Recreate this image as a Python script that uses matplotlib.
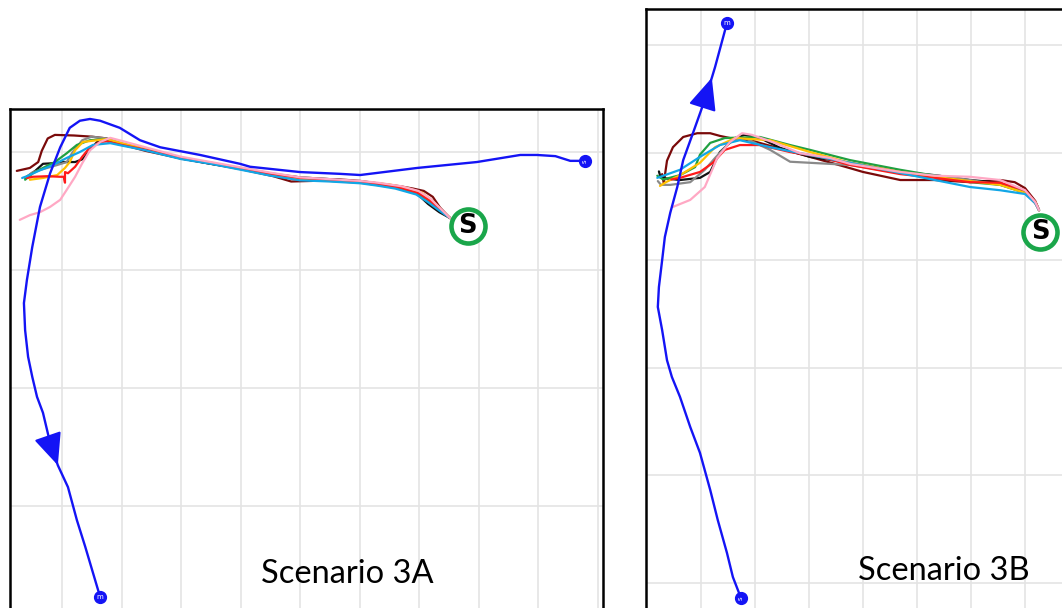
import matplotlib
matplotlib.use("Agg")
import matplotlib.pyplot as plt

# ---------------------------------------------------------------
# Trajectories (metres, local frame of each scenario)
# ---------------------------------------------------------------
# Scenario 3A: reference route (blue), from start "s" to end "m"
A_ROUTE = [(87.9, -1.5), (85.4, -1.5), (82.9, -0.7), (79.8, -0.5), (77.0, -0.5),
           (69.7, -1.7), (59.7, -2.7), (50.1, -3.9), (46.7, -3.7), (40.0, -3.4),
           (31.6, -2.5), (29.9, -2.0), (23.2, -0.5), (16.5, 0.8), (13.1, 2.0),
           (9.7, 4.1), (6.4, 5.3), (4.7, 5.6), (3.0, 5.3), (1.3, 4.1), (-0.3, 0.8),
           (-2.0, -3.6), (-3.7, -9.3), (-5.0, -16.1), (-5.9, -21.7), (-6.4, -25.6),
           (-6.2, -30.2), (-5.7, -34.7), (-5.0, -38.1), (-4.2, -41.5), (-3.2, -44.2),
           (-2.0, -49.3), (-0.7, -53.1), (1.0, -56.8), (2.5, -62.4), (3.9, -66.9),
           (6.4, -75.4)]
A_ARROW = (31, 32)          # route segment carrying the direction arrow
A_START_S = (68.2, -12.5)   # participants' start point

A_MAROON = [(65.2, -11.2), (63.5, -9.4), (62.3, -7.6), (60.8, -6.6), (59.0, -6.2),
            (56.8, -5.8), (53.0, -5.3), (50.1, -4.9), (46.0, -4.6), (42.0, -4.9),
            (38.5, -5.0), (35.5, -4.1), (30.0, -2.9), (25.0, -2.0), (20.0, -1.1),
            (14.0, 0.2), (10.0, 1.3), (7.5, 2.3), (5.0, 2.6), (2.0, 2.8), (-1.2, 2.9),
            (-2.4, 2.3), (-3.4, 0.2), (-4.0, -1.7), (-5.4, -2.7), (-7.6, -3.2)]
A_BLACK = [(65.2, -11.2), (63.4, -10.2), (61.5, -8.8), (59.7, -7.1), (57.0, -6.1),
           (53.0, -5.4), (50.1, -5.0), (45.0, -4.6), (40.0, -4.3), (35.0, -3.7),
           (30.0, -2.8), (25.0, -2.0), (20.0, -1.1), (14.0, 0.4), (10.0, 1.3),
           (7.5, 2.0), (6.0, 1.8), (4.7, 0.4), (3.5, -1.2), (2.2, -1.7), (0.0, -1.7),
           (-1.5, -1.9), (-3.2, -2.0), (-4.5, -3.2), (-6.2, -4.4)]
A_GRAY = [(65.2, -11.2), (63.6, -9.9), (61.8, -8.3), (59.7, -6.9), (57.0, -6.0),
          (53.0, -5.3), (50.1, -5.0), (45.0, -4.6), (40.0, -4.3), (35.0, -3.6),
          (30.0, -2.7), (25.0, -1.9), (20.0, -1.0), (14.0, 0.5), (10.0, 1.5),
          (7.5, 2.3), (5.0, 2.6), (3.4, 2.0), (1.8, 0.0), (0.8, -1.7), (-0.8, -2.2),
          (-2.5, -2.7), (-4.9, -3.4), (-6.2, -4.4)]
A_GREEN = [(65.2, -11.2), (63.8, -9.9), (62.0, -8.5), (60.0, -7.1), (57.0, -6.2),
           (53.0, -5.6), (50.1, -5.2), (45.0, -4.9), (40.0, -4.6), (35.0, -3.8),
           (30.0, -2.8), (25.0, -1.9), (20.0, -1.0), (14.0, 0.5), (10.0, 1.4),
           (7.5, 2.2), (4.7, 2.0), (2.5, 1.2), (0.8, -0.2), (-1.2, -1.7), (-3.2, -2.7),
           (-4.9, -3.6), (-6.2, -4.7)]
A_YELLOW = [(65.2, -11.2), (63.9, -10.0), (62.4, -8.4), (60.5, -6.9), (58.0, -6.1),
            (55.0, -5.5), (50.1, -5.0), (45.0, -4.8), (40.0, -4.6), (35.0, -3.7),
            (30.0, -2.8), (25.0, -1.8), (20.0, -1.0), (14.0, 0.5), (10.0, 1.5),
            (7.5, 2.2), (5.9, 2.0), (3.5, 1.7), (2.2, 0.3), (1.3, -1.7), (0.5, -2.7),
            (-0.8, -3.9), (-3.2, -4.4), (-5.4, -4.7)]
A_RED = [(65.2, -11.2), (63.7, -10.0), (62.0, -8.4), (60.0, -7.0), (57.0, -6.1),
         (53.0, -5.4), (50.1, -5.0), (45.0, -4.7), (40.0, -4.4), (35.0, -3.7),
         (30.0, -2.8), (25.0, -1.9), (20.0, -1.0), (14.0, 0.4), (10.0, 1.2),
         (7.5, 1.8), (6.4, 1.7), (4.7, 0.8), (3.4, -0.8), (2.2, -2.5), (1.0, -3.6),
         (0.5, -3.4), (0.5, -5.2), (0.3, -4.2), (-0.3, -4.2), (-2.5, -4.1),
         (-4.9, -4.2), (-5.9, -4.4)]
A_CYAN = [(65.2, -11.2), (63.5, -10.0), (61.5, -8.5), (59.5, -7.2), (56.0, -6.2),
          (53.0, -5.7), (50.1, -5.3), (45.0, -5.0), (40.0, -4.8), (35.0, -4.0),
          (30.0, -3.0), (25.0, -2.0), (20.0, -1.2), (14.0, 0.3), (10.0, 1.1),
          (8.1, 1.5), (5.2, 1.2), (3.0, 0.0), (0.8, -1.0), (-1.5, -2.2), (-3.7, -3.1),
          (-5.9, -4.1), (-6.7, -4.4)]
A_PINK = [(65.2, -11.2), (63.6, -9.6), (61.9, -7.9), (59.9, -6.6), (57.0, -5.8),
          (53.0, -5.2), (50.1, -4.9), (45.0, -4.6), (40.0, -4.3), (35.0, -3.5),
          (30.0, -2.6), (25.0, -1.7), (20.0, -0.8), (14.0, 0.8), (10.0, 1.9),
          (8.1, 2.4), (6.4, 1.7), (4.7, 0.3), (3.4, -1.9), (2.2, -4.2), (0.8, -6.4),
          (-0.3, -8.1), (-2.0, -9.3), (-3.7, -10.2), (-5.4, -10.7), (-7.1, -11.5)]

# Scenario 3B
B_ROUTE = [(7.4, -102.8), (5.9, -98.9), (4.8, -94.4), (3.1, -88.3), (1.7, -82.7),
           (-0.2, -75.8), (-2.0, -71.0), (-3.9, -65.4), (-5.4, -61.7), (-6.3, -58.6),
           (-7.2, -53.0), (-8.0, -48.7), (-7.8, -45.0), (-7.2, -40.0), (-6.7, -35.7),
           (-5.7, -31.2), (-4.4, -26.4), (-3.3, -21.4), (-1.5, -16.4), (0.7, -10.2),
           (2.0, -6.1), (2.6, -4.1), (4.3, 2.2), (4.8, 4.1)]
B_ARROW = (19, 20)
B_START_S = (62.8, -34.8)

B_MAROON = [(62.6, -30.7), (61.9, -29.0), (60.0, -26.6), (58.1, -25.5), (55.4, -25.1),
            (49.8, -25.5), (43.3, -25.1), (36.9, -25.1), (30.0, -23.6), (27.6, -22.9),
            (20.2, -20.8), (13.7, -19.0), (9.1, -17.7), (5.4, -17.3), (3.5, -16.9),
            (1.7, -16.4), (-0.7, -16.4), (-3.3, -17.1), (-5.2, -19.0), (-6.3, -21.5),
            (-6.9, -25.7), (-7.2, -24.0)]
B_BLACK = [(62.6, -30.7), (61.9, -29.4), (60.0, -27.5), (55.4, -25.6), (49.8, -25.1),
           (43.3, -24.2), (36.9, -23.6), (27.6, -21.9), (20.2, -20.8), (14.6, -19.1),
           (10.9, -17.3), (8.1, -16.7), (6.3, -17.3), (3.5, -19.9), (1.7, -23.6),
           (-0.2, -24.7), (-3.9, -25.1), (-6.5, -24.8), (-7.6, -24.2), (-7.8, -23.5)]
B_GRAY = [(62.6, -30.7), (61.9, -29.2), (60.0, -27.3), (55.4, -26.0), (49.8, -25.1),
          (43.3, -24.2), (36.9, -23.8), (27.6, -22.3), (20.2, -21.9), (16.5, -21.7),
          (12.8, -19.5), (8.1, -17.3), (5.4, -18.0), (2.6, -21.0), (0.7, -23.2),
          (-2.0, -25.5), (-5.7, -26.0), (-7.4, -26.0), (-8.0, -25.3)]
B_GREEN = [(62.6, -30.7), (61.9, -29.2), (60.0, -27.5), (55.4, -26.0), (49.8, -25.5),
           (43.3, -24.3), (36.9, -23.2), (27.6, -21.4), (20.2, -19.5), (16.5, -18.6),
           (10.9, -17.1), (4.4, -17.3), (1.7, -18.2), (-0.2, -20.4), (-1.1, -22.7),
           (-3.9, -24.2), (-7.0, -25.0), (-8.1, -24.3)]
B_YELLOW = [(62.6, -30.7), (61.9, -29.2), (60.0, -27.5), (55.4, -26.0), (49.8, -25.3),
            (43.3, -24.5), (36.9, -23.6), (27.6, -21.9), (20.2, -19.9), (12.8, -17.7),
            (6.3, -17.3), (2.6, -19.0), (-0.2, -21.9), (-3.9, -24.2), (-6.5, -25.5),
            (-7.6, -26.2)]
B_RED = [(62.6, -30.7), (61.9, -29.2), (60.0, -27.0), (55.4, -25.6), (49.8, -25.5),
         (43.3, -24.7), (36.9, -24.0), (27.6, -22.3), (22.0, -20.8), (16.5, -19.9),
         (10.9, -18.6), (7.2, -18.6), (4.4, -19.5), (2.2, -21.9), (-0.2, -23.6),
         (-3.9, -24.7), (-5.5, -25.0)]
B_CYAN = [(62.6, -30.7), (61.9, -29.4), (60.0, -27.7), (55.4, -27.0), (49.8, -26.4),
          (43.3, -25.1), (36.9, -23.8), (27.6, -21.9), (18.3, -20.1), (12.8, -19.0),
          (7.2, -17.7), (3.5, -18.6), (-0.2, -20.8), (-3.9, -23.2), (-8.1, -24.7)]
B_PINK = [(62.6, -30.7), (61.9, -29.2), (60.0, -27.0), (55.4, -25.1), (49.8, -24.5),
          (43.3, -24.3), (36.9, -23.6), (27.6, -22.1), (23.9, -21.0), (18.3, -20.1),
          (13.7, -18.2), (9.4, -16.7), (7.6, -16.4), (5.4, -18.0), (3.0, -21.0),
          (0.7, -26.4), (-2.0, -28.8), (-5.2, -30.1)]

LABELS = ["Scenario 3A", "Scenario 3B"]

# ---------------------------------------------------------------
ROUTE_BLUE = "#1414f5"
RING_GREEN = "#1aa64a"
COLORS = {"maroon": "#7a0a0a", "black": "#111111", "gray": "#8a8a8a",
          "green": "#20a040", "yellow": "#ffc000", "red": "#ff1a1a",
          "cyan": "#12a6e6", "pink": "#ffa8c4"}

W, H = 1062, 608
fig = plt.figure(figsize=(W / 100, H / 100), dpi=100)
fig.patch.set_facecolor("white")


def make_axes(px_left, px_right, px_top, px_bottom, xlim, ylim, xticks, yticks):
    ax = fig.add_axes([px_left / W, 1 - px_bottom / H,
                       (px_right - px_left) / W, (px_bottom - px_top) / H])
    ax.set_xlim(*xlim)
    ax.set_ylim(*ylim)
    ax.set_xticks(xticks)
    ax.set_yticks(yticks)
    ax.tick_params(length=0, labelbottom=False, labelleft=False)
    ax.grid(True, color="#e4e4e4", lw=1.2)
    ax.set_axisbelow(True)
    for sp in ax.spines.values():
        sp.set_color("black")
        sp.set_linewidth(1.8)
    return ax


def xy(points):
    return [p[0] for p in points], [p[1] for p in points]


def draw_panel(ax, route, arrow_idx, start_s, tracks, label_xy, label):
    for name, pts in tracks:
        x, y = xy(pts)
        ax.plot(x, y, color=COLORS[name], lw=1.6, zorder=3,
                solid_capstyle="round", solid_joinstyle="round")
    rx, ry = xy(route)
    ax.plot(rx, ry, color=ROUTE_BLUE, lw=1.7, zorder=4,
            solid_joinstyle="round")
    i0, i1 = arrow_idx
    ax.annotate("", xy=(rx[i1], ry[i1]), xytext=(rx[i0], ry[i0]),
                arrowprops=dict(arrowstyle="-|>,head_length=0.95,head_width=0.42",
                                mutation_scale=21, color=ROUTE_BLUE, lw=1.5,
                                shrinkA=0, shrinkB=0), zorder=5)
    # route end points
    for (px, py), ch, rot in [((rx[0], ry[0]), "s", 90), ((rx[-1], ry[-1]), "m", 0)]:
        ax.plot(px, py, "o", ms=8.5, color=ROUTE_BLUE, zorder=6)
        ax.text(px, py, ch, color="white", fontsize=5, ha="center", va="center",
                rotation=rot, zorder=7)
    # participants' start marker
    ax.plot(*start_s, "o", ms=24.5, mfc="white", mec=RING_GREEN, mew=3.3, zorder=8)
    ax.text(start_s[0], start_s[1], "S", fontsize=18.5, fontweight="bold",
            ha="center", va="center", zorder=9)
    fig.text(label_xy[0] / W, 1 - label_xy[1] / H, label, fontsize=23.5,
             family="Lato", ha="center", va="baseline")


ax_a = make_axes(10, 603, 109, 624, (-8.74, 90.9), (-80, 7.29),
                 range(0, 100, 10), range(-80, 1, 20))
ax_b = make_axes(646, 1079, 9, 626, (-10.19, 70), (-108, 6.69),
                 range(0, 70, 10), range(-100, 1, 20))

order = ["maroon", "black", "gray", "green", "yellow", "red", "cyan", "pink"]
tracks_a = list(zip(order, [A_MAROON, A_BLACK, A_GRAY, A_GREEN, A_YELLOW, A_RED, A_CYAN, A_PINK]))
tracks_b = list(zip(order, [B_MAROON, B_BLACK, B_GRAY, B_GREEN, B_YELLOW, B_RED, B_CYAN, B_PINK]))

draw_panel(ax_a, A_ROUTE, A_ARROW, A_START_S, tracks_a, (347, 583), LABELS[0])
draw_panel(ax_b, B_ROUTE, B_ARROW, B_START_S, tracks_b, (944, 580), LABELS[1])

fig.savefig("out.png", dpi=100, facecolor="white")
